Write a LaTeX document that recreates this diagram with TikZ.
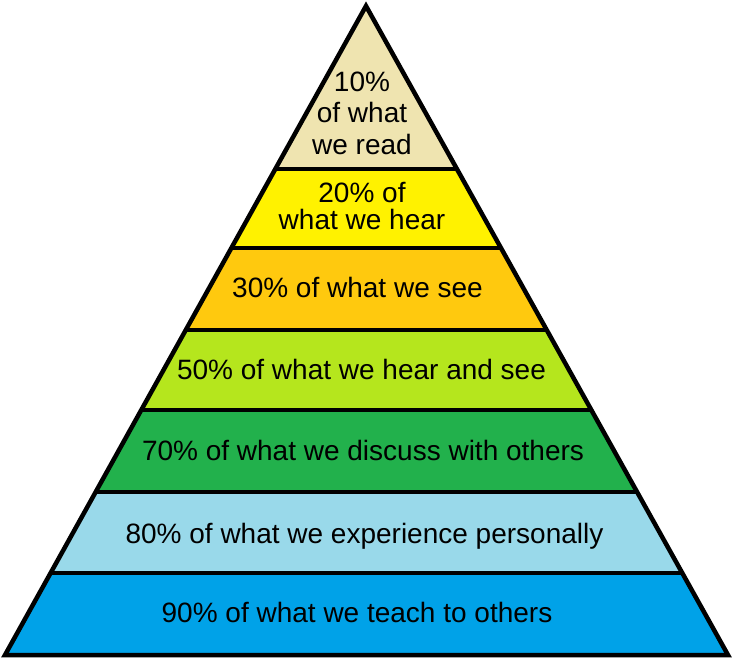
\documentclass[tikz,border=0pt]{standalone}
\usepackage{fontspec}
\setmainfont{Liberation Sans}
\usetikzlibrary{calc}
\definecolor{readtan}{HTML}{EFE4B0}
\definecolor{hearyellow}{HTML}{FFF200}
\definecolor{seegold}{HTML}{FFC90E}
\definecolor{bothlime}{HTML}{B5E61D}
\definecolor{discussgreen}{HTML}{22B14C}
\definecolor{doskyblue}{HTML}{99D9EA}
\definecolor{teachblue}{HTML}{00A2E8}

\begin{document}
\begin{tikzpicture}[x=1pt,y=-1pt,
        edge/.style={draw=black,line width=4.5pt},
        tier/.style={font=\fontsize{28}{31.5}\selectfont,align=center,text=black,inner sep=0pt}]
        \useasboundingbox (0,0) rectangle (733,660);

        % Corners
        \coordinate (apex) at (366,6);
        \coordinate (bl) at (5,655);
        \coordinate (br) at (728,655);

        % Bands
        \fill[readtan] (apex) -- ($(apex)!0.2512!(bl)$) -- ($(apex)!0.2512!(br)$) -- cycle;
        \foreach \a/\b/\c in {0.2512/0.3729/hearyellow, 0.3729/0.4992/seegold,
                0.4992/0.6225/bothlime, 0.6225/0.7488/discussgreen,
                0.7488/0.8737/doskyblue, 0.8737/1/teachblue}
            \fill[\c] ($(apex)!\a!(bl)$) -- ($(apex)!\b!(bl)$) -- ($(apex)!\b!(br)$) -- ($(apex)!\a!(br)$) -- cycle;

        % Dividers and outline
        \foreach \a in {0.2512,0.3729,0.4992,0.6225,0.7488,0.8737}
            \draw[edge] ($(apex)!\a!(bl)$) -- ($(apex)!\a!(br)$);
        \draw[edge] (apex) -- (bl) -- (br) -- cycle;

        % Labels
        \node[tier] (read) at (362,113) {10\%\\of what\\we read};
        \node[tier,font=\fontsize{28}{27}\selectfont] (hear) at (362,206.5) {20\% of\\what we hear};
        \node[tier,anchor=base] (see) at (357.5,297.3) {30\% of what we see};
        \node[tier,anchor=base] (hearsee) at (361.5,379.5) {50\% of what we hear and see};
        \node[tier,anchor=base] (discuss) at (363,460.7) {70\% of what we discuss with others};
        \node[tier,anchor=base] (experience) at (364.5,543) {80\% of what we experience personally};
        \node[tier,anchor=base] (teach) at (357,622.5) {90\% of what we teach to others};
\end{tikzpicture}
\end{document}
